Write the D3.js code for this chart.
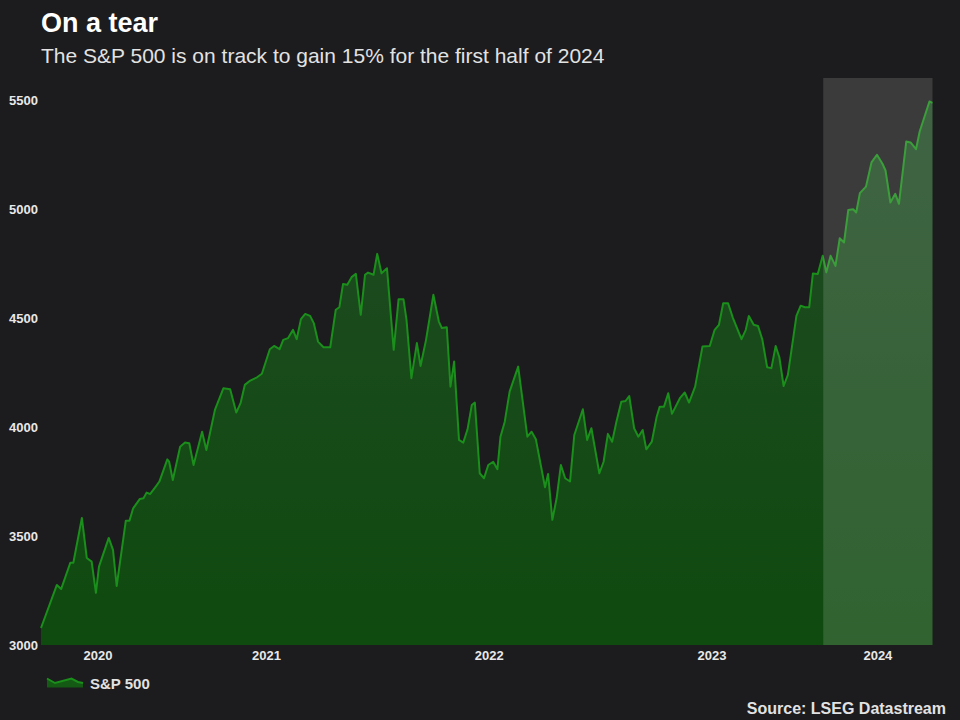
<!DOCTYPE html>
<html><head><meta charset="utf-8">
<script src="https://cdn.jsdelivr.net/npm/d3@7"></script>
<style>
html,body{margin:0;padding:0;background:#1c1b1d;}
svg{display:block;font-family:"Liberation Sans",Arial,Helvetica,sans-serif;}
</style></head><body>
<svg id="chart" width="960" height="720"></svg>
<script>
// ---- data ----
const dates = [
"2020-06-28","2020-07-24","2020-07-31","2020-08-15","2020-08-20","2020-09-03","2020-09-11","2020-09-19","2020-09-26","2020-10-01",
"2020-10-17","2020-10-24","2020-10-30","2020-11-14","2020-11-20","2020-11-26","2020-12-07","2020-12-13","2020-12-18","2020-12-24",
"2021-01-03","2021-01-08","2021-01-21","2021-01-24","2021-01-30","2021-02-11","2021-02-19","2021-02-26","2021-03-05","2021-03-19",
"2021-03-26","2021-04-09","2021-04-23","2021-05-04","2021-05-14","2021-05-21","2021-05-28","2021-06-06","2021-06-17","2021-06-25",
"2021-07-08","2021-07-15","2021-07-24","2021-07-30","2021-08-07","2021-08-15","2021-08-21","2021-08-28","2021-09-04","2021-09-12",
"2021-09-18","2021-09-25","2021-10-04","2021-10-15","2021-10-24","2021-10-30","2021-11-05","2021-11-12","2021-11-19","2021-11-26",
"2021-12-04","2021-12-11","2021-12-16","2021-12-25","2021-12-31","2022-01-07","2022-01-16","2022-01-27","2022-02-04","2022-02-12",
"2022-02-17","2022-02-25","2022-03-06","2022-03-12","2022-03-21","2022-04-02","2022-04-11","2022-04-16","2022-04-24","2022-04-30",
"2022-05-06","2022-05-14","2022-05-21","2022-05-28","2022-06-04","2022-06-09","2022-06-17","2022-06-24","2022-07-01","2022-07-09",
"2022-07-16","2022-07-21","2022-07-28","2022-08-05","2022-08-19","2022-09-03","2022-09-10","2022-09-17","2022-10-02","2022-10-07",
"2022-10-14","2022-10-21","2022-10-28","2022-11-04","2022-11-12","2022-11-19","2022-12-03","2022-12-10","2022-12-17","2022-12-30",
"2023-01-06","2023-01-13","2023-01-20","2023-01-27","2023-02-04","2023-02-11","2023-02-17","2023-02-25","2023-03-04","2023-03-11",
"2023-03-17","2023-03-26","2023-04-03","2023-04-08","2023-04-15","2023-04-22","2023-04-28","2023-05-11","2023-05-19","2023-05-26",
"2023-06-05","2023-06-17","2023-06-29","2023-07-07","2023-07-14","2023-07-21","2023-07-29","2023-08-06","2023-08-20","2023-08-27",
"2023-09-01","2023-09-09","2023-09-16","2023-09-23","2023-10-01","2023-10-08","2023-10-15","2023-10-21","2023-10-28","2023-11-04",
"2023-11-18","2023-11-25","2023-12-02","2023-12-09","2023-12-15","2023-12-23","2023-12-31","2024-01-06","2024-01-13","2024-01-21",
"2024-01-28","2024-02-04","2024-02-11","2024-02-19","2024-02-24","2024-03-01","2024-03-11","2024-03-20","2024-03-29","2024-04-07",
"2024-04-12","2024-04-20","2024-04-28","2024-05-04","2024-05-16","2024-05-23","2024-06-01","2024-06-07","2024-06-15","2024-06-23",
"2024-06-28"
];
const values = [
3078,3276,3257,3378,3378,3584,3400,3383,3240,3360,
3492,3437,3271,3571,3571,3628,3671,3674,3700,3694,
3731,3751,3853,3842,3758,3911,3930,3927,3827,3980,
3896,4080,4180,4175,4068,4111,4195,4215,4230,4246,
4359,4374,4359,4402,4410,4448,4405,4497,4521,4512,
4479,4394,4368,4368,4540,4552,4659,4655,4690,4705,
4517,4701,4711,4701,4797,4708,4731,4356,4589,4589,
4494,4226,4387,4282,4402,4609,4486,4456,4460,4187,
4302,3942,3930,3991,4103,4114,3789,3766,3827,3842,
3808,3957,4026,4164,4279,3957,3980,3945,3725,3786,
3575,3674,3827,3766,3751,3965,4083,3942,3996,3789,
3842,3970,3934,4026,4118,4121,4144,3996,3957,3988,
3899,3934,4049,4095,4095,4157,4062,4134,4160,4114,
4187,4371,4374,4448,4471,4570,4570,4502,4405,4448,
4512,4471,4466,4405,4276,4272,4374,4322,4190,4241,
4512,4559,4552,4552,4707,4705,4788,4712,4788,4742,
4869,4849,4999,5002,4987,5076,5106,5217,5252,5211,
5180,5033,5073,5027,5313,5309,5278,5359,5428,5497,
5491
];
const yTicks = [3000, 3500, 4000, 4500, 5000, 5500];
const yearLabels = ["2020", "2021", "2022", "2023", "2024"];
const highlightStart = "2024-01-01";
const seriesName = "S&P 500";
const titleText = "On a tear";
const subtitleText = "The S&P 500 is on track to gain 15% for the first half of 2024";
const sourceText = "Source: LSEG Datastream";

// ---- layout ----
const W = 960, H = 720;
const plot = {left: 41, right: 932.5, top: 78, bottom: 645};
const yMax = 5605;
const parse = d3.utcParse("%Y-%m-%d");
const data = dates.map((d, i) => ({date: parse(d), value: values[i]}));

const svg = d3.select("#chart");
svg.append("rect").attr("width", W).attr("height", H).attr("fill", "#1c1b1d");

const x = d3.scaleUtc().domain(d3.extent(data, d => d.date)).range([plot.left, plot.right]);
const y = d3.scaleLinear().domain([3000, yMax]).range([plot.bottom, plot.top]);

const defs = svg.append("defs");
const grad = defs.append("linearGradient").attr("id", "areaGrad")
  .attr("gradientUnits", "userSpaceOnUse")
  .attr("x1", 0).attr("x2", 0).attr("y1", y(5500)).attr("y2", y(3000));
grad.append("stop").attr("offset", "0%").attr("stop-color", "#214a25");
grad.append("stop").attr("offset", "100%").attr("stop-color", "#0f4a0f");

// area
const area = d3.area().x(d => x(d.date)).y0(y(3000)).y1(d => y(d.value)).curve(d3.curveLinear);
svg.append("path").datum(data).attr("d", area).attr("fill", "url(#areaGrad)");

// line
const line = d3.line().x(d => x(d.date)).y(d => y(d.value));
svg.append("path").datum(data).attr("d", line)
  .attr("fill", "none").attr("stroke", "#1b8f1b").attr("stroke-width", 2)
  .attr("stroke-linejoin", "round");

// highlight 2024
const hs = parse(highlightStart);
svg.append("rect")
  .attr("x", x(hs)).attr("y", y(yMax))
  .attr("width", x.range()[1] - x(hs)).attr("height", y(3000) - y(yMax))
  .attr("fill", "#ffffff").attr("fill-opacity", 0.14);

// y tick labels
svg.append("g").selectAll("text").data(yTicks).join("text")
  .attr("x", 9).attr("y", d => y(d) + 4.5)
  .attr("fill", "#e8e8e8").attr("font-size", 13).attr("font-weight", "bold")
  .text(d => d);

// x labels: centred in the visible part of each year
const [d0, d1] = x.domain();
svg.append("g").selectAll("text").data(yearLabels).join("text")
  .attr("x", yr => {
    const s = new Date(Math.max(d0, Date.UTC(+yr, 0, 1)));
    const e = new Date(Math.min(d1, Date.UTC(+yr + 1, 0, 1)));
    return (x(s) + x(e)) / 2;
  })
  .attr("y", 660)
  .attr("text-anchor", "middle")
  .attr("fill", "#e8e8e8").attr("font-size", 13).attr("font-weight", "bold")
  .text(d => d);

// title & subtitle
svg.append("text").attr("x", 41).attr("y", 32)
  .attr("fill", "#ffffff").attr("font-size", 27).attr("font-weight", "bold").text(titleText);
svg.append("text").attr("x", 41).attr("y", 63)
  .attr("fill", "#e2e2e2").attr("font-size", 21).text(subtitleText);

// legend
const lg = svg.append("g").attr("transform", "translate(47,677)");
lg.append("path").attr("d", "M0,1.5 L8,6 L24.5,1.5 L31,5 L36,6 L36,10.5 L0,10.5 Z").attr("fill", "#145a14");
lg.append("path").attr("d", "M0,1.5 L8,6 L24.5,1.5 L31,5 L36,6").attr("fill", "none")
  .attr("stroke", "#1b8f1b").attr("stroke-width", 2);
svg.append("text").attr("x", 90).attr("y", 689)
  .attr("fill", "#e2e2e2").attr("font-size", 15).attr("font-weight", "bold").text(seriesName);

// source
svg.append("text").attr("x", 946).attr("y", 714).attr("text-anchor", "end")
  .attr("fill", "#e2e2e2").attr("font-size", 16).attr("font-weight", "bold").text(sourceText);
</script>
</body></html>
